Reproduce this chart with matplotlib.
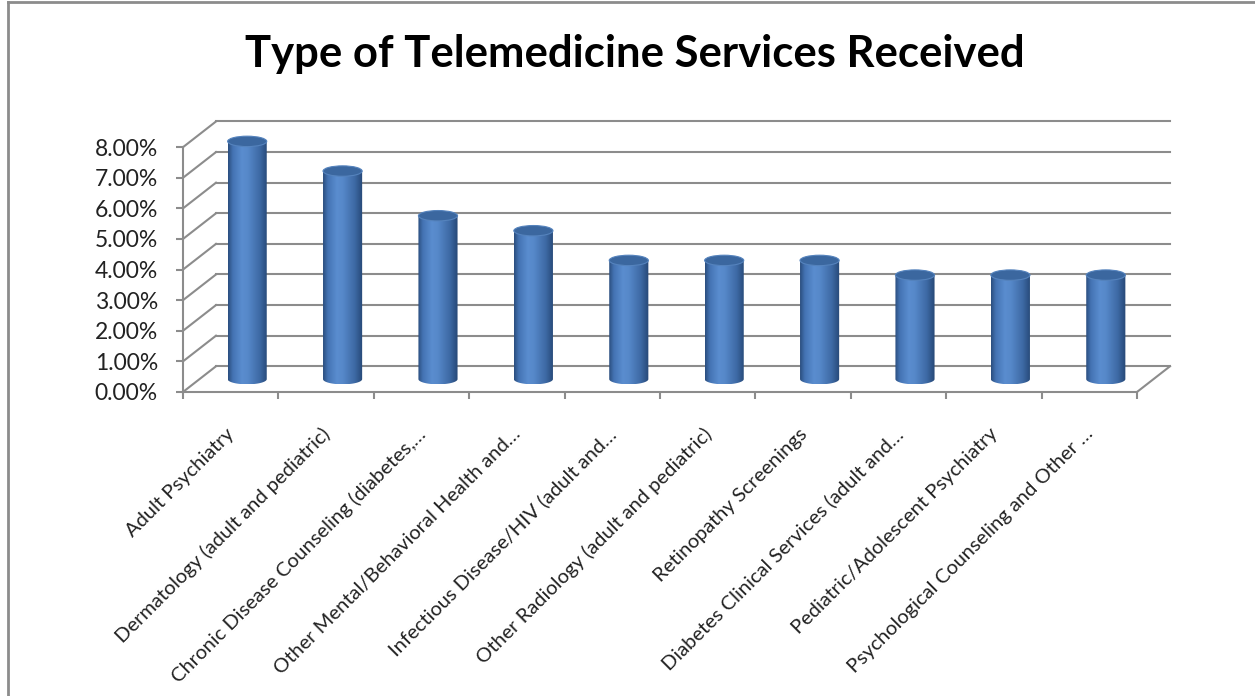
import numpy as np
import matplotlib.pyplot as plt
import matplotlib.transforms as mtransforms
from matplotlib.patches import Ellipse, PathPatch
from matplotlib.path import Path
from matplotlib.lines import Line2D
from matplotlib.colors import LinearSegmentedColormap

plt.rcParams['font.family'] = ['Lato', 'DejaVu Sans']

services = [
    "Adult Psychiatry",
    "Dermatology (adult and pediatric)",
    "Chronic Disease Counseling (diabetes,\u2026",
    "Other Mental/Behavioral Health and\u2026",
    "Infectious Disease/HIV (adult and\u2026",
    "Other Radiology (adult and pediatric)",
    "Retinopathy Screenings",
    "Diabetes Clinical Services (adult and\u2026",
    "Pediatric/Adolescent Psychiatry",
    "Psychological Counseling and Other \u2026",
]
shares = [7.77, 6.80, 5.34, 4.85, 3.88, 3.88, 3.88, 3.40, 3.40, 3.40]
y_ticks = np.arange(0, 9)

# oblique offset of the back wall (x in categories, y in percent)
DX, DY = 0.346, 0.84
BAR_W = 0.41
CAP_B = 0.17
GRID = '#8c8c8c'

fig = plt.figure(figsize=(12.55, 6.96), dpi=100)
ax = fig.add_axes([0, 0, 1, 1])
ax.set_facecolor('none')

# walls and floor
for v in y_ticks:
    ax.plot([0, DX], [v, v + DY], color=GRID, lw=1.5, zorder=1)
    ax.plot([DX, len(services) + DX], [v + DY, v + DY], color=GRID, lw=1.5, zorder=1)
ax.plot([len(services), len(services) + DX], [0, DY], color=GRID, lw=1.5, zorder=1)

# cylinders
cyl = LinearSegmentedColormap.from_list('cyl', [
    (0.0, '#2a4d7d'), (0.12, '#4473b3'), (0.35, '#5a8dcf'),
    (0.5, '#5688c9'), (0.8, '#3d69a4'), (1.0, '#264775')])
grad = np.linspace(0, 1, 256)[None, :]
for i, v in enumerate(shares):
    cx = i + 0.5 + DX / 2
    base = DY / 2
    top = base + v
    a = BAR_W / 2
    t = np.linspace(np.pi, 2 * np.pi, 60)
    pts = [(cx - a, top)] + list(zip(cx + a * np.cos(t), base + CAP_B * np.sin(t))) + [(cx + a, top)]
    body = PathPatch(Path(pts + [pts[0]], closed=True), fc='none', ec='none')
    ax.add_patch(body)
    im = ax.imshow(grad, cmap=cyl, aspect='auto', interpolation='bilinear',
                   extent=[cx - a, cx + a, base - CAP_B, top], zorder=3)
    im.set_clip_path(body)
    ax.add_patch(Ellipse((cx, top), BAR_W, 2 * CAP_B, fc='#3b679f', ec='#5583bd',
                         lw=0.8, zorder=4))

# axes
ax.set_xlim(-1.918, 11.237)
ax.set_ylim(-9.935, 12.81)
for side in ['top', 'right']:
    ax.spines[side].set_visible(False)
ax.spines['left'].set_position(('data', 0))
ax.spines['bottom'].set_position(('data', 0))
ax.spines['left'].set_bounds(0, 8)
ax.spines['bottom'].set_bounds(0, len(services))
for side in ['left', 'bottom']:
    ax.spines[side].set_color(GRID)
    ax.spines[side].set_linewidth(1.5)

ax.set_yticks(y_ticks, [f"{v:.2f}%" for v in y_ticks])
ax.set_xticks(np.arange(len(services) + 1), [])
ax.tick_params(axis='both', color=GRID, width=1.5, length=5)
ax.tick_params(axis='y', pad=13, labelsize=16.5, labelcolor='#222222')

offset = mtransforms.ScaledTranslation(-0.05, -0.33, fig.dpi_scale_trans)
for i, name in enumerate(services):
    ax.text(i + 0.5, 0, name, rotation=45, ha='right', va='top',
            rotation_mode='anchor', fontsize=14.5, color='#222222',
            transform=ax.transData + offset)

fig.text(635 / 1255, 1 - 54 / 696, "Type of Telemedicine Services Received",
         ha='center', va='center', fontsize=31.4, fontweight='bold')

# chart frame
fig.add_artist(Line2D([8 / 1255, 8 / 1255], [0, 1 - 1.5 / 696], transform=fig.transFigure,
                      color='#8c8c8c', lw=2))
fig.add_artist(Line2D([8 / 1255, 1], [1 - 1.5 / 696, 1 - 1.5 / 696], transform=fig.transFigure,
                      color='#8c8c8c', lw=2))

fig.savefig('out.png', dpi=100)
